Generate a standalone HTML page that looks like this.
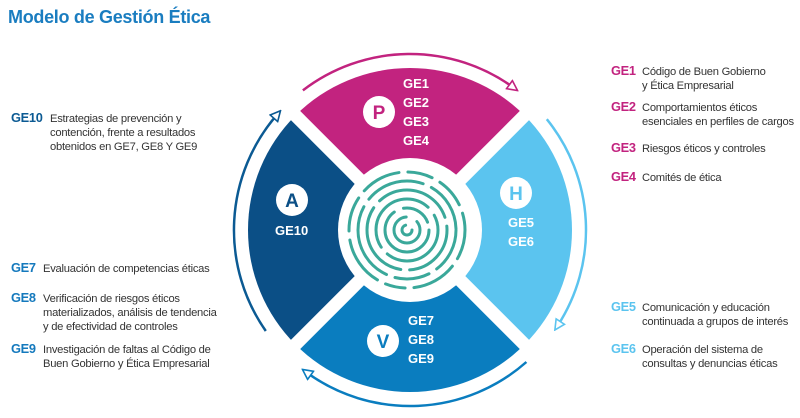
<!DOCTYPE html>
<html><head><meta charset="utf-8">
<style>
html,body{margin:0;padding:0;background:#fff;}
svg{display:block;font-family:"Liberation Sans",sans-serif;}
.t{font-size:11.2px;fill:#333;letter-spacing:-0.25px;}
.k{font-size:12.8px;font-weight:bold;letter-spacing:-0.3px;}
.w{fill:#fff;font-size:13px;font-weight:bold;}
</style></head><body>
<svg width="800" height="418" viewBox="0 0 800 418" xmlns="http://www.w3.org/2000/svg">
<defs>
<marker id="m1" viewBox="0 0 12 12" refX="6" refY="6" markerWidth="12" markerHeight="12" markerUnits="userSpaceOnUse" orient="auto"><path d="M1,1 L11,6 L1,11 Z" fill="#fff" stroke="#c2237f" stroke-width="1.6"/></marker>
<marker id="m2" viewBox="0 0 12 12" refX="6" refY="6" markerWidth="12" markerHeight="12" markerUnits="userSpaceOnUse" orient="auto"><path d="M1,1 L11,6 L1,11 Z" fill="#fff" stroke="#5bc4ef" stroke-width="1.6"/></marker>
<marker id="m3" viewBox="0 0 12 12" refX="6" refY="6" markerWidth="12" markerHeight="12" markerUnits="userSpaceOnUse" orient="auto"><path d="M1,1 L11,6 L1,11 Z" fill="#fff" stroke="#0a7dbf" stroke-width="1.6"/></marker>
<marker id="m4" viewBox="0 0 12 12" refX="6" refY="6" markerWidth="12" markerHeight="12" markerUnits="userSpaceOnUse" orient="auto"><path d="M1,1 L11,6 L1,11 Z" fill="#fff" stroke="#0b5a93" stroke-width="1.6"/></marker>
</defs>

<text x="8" y="23" font-size="18" font-weight="bold" fill="#1a7dc0" letter-spacing="-0.3">Modelo de Gestión Ética</text>

<path d="M410,230 L295.45,115.45 A162,162 0 0 1 524.55,115.45 Z" fill="#c2237f"/>
<path d="M410,230 L524.55,115.45 A162,162 0 0 1 524.55,344.55 Z" fill="#5bc4ef"/>
<path d="M410,230 L524.55,344.55 A162,162 0 0 1 295.45,344.55 Z" fill="#0a7dbf"/>
<path d="M410,230 L295.45,344.55 A162,162 0 0 1 295.45,115.45 Z" fill="#0b4f86"/>
<line x1="285" y1="105" x2="535" y2="355" stroke="#fff" stroke-width="13"/>
<line x1="535" y1="105" x2="285" y2="355" stroke="#fff" stroke-width="13"/>
<circle cx="410" cy="230" r="72" fill="#fff"/>

<g fill="none" stroke="#3aa89a" stroke-width="3" stroke-linecap="round">
<circle cx="407" cy="230" r="5" stroke-dasharray="22 10"/>
<circle cx="407" cy="230" r="13" stroke-dasharray="60 12"/>
<circle cx="407" cy="230" r="22" stroke-dasharray="90 10 30 8"/>
<circle cx="407" cy="230" r="31" stroke-dasharray="70 9 90 10"/>
<circle cx="407" cy="230" r="40" stroke-dasharray="60 9 80 9 80 9"/>
<circle cx="407" cy="230" r="49" stroke-dasharray="45 9 35 9 80 9 60 9 50 9"/>
<circle cx="407" cy="230" r="58" stroke-dasharray="30 9 45 9 20 9 50 9 35 9 40 9 25 9"/>
</g>

<g fill="none" stroke-width="2.5">
<path d="M302.9,90.4 A176,176 0 0 1 513.5,87.6" stroke="#c2237f" marker-end="url(#m1)"/>
<path d="M546.8,119.2 A176,176 0 0 1 557.6,325.8" stroke="#5bc4ef" marker-end="url(#m2)"/>
<path d="M526.4,362.0 A176,176 0 0 1 306.5,372.4" stroke="#0a7dbf" marker-end="url(#m3)"/>
<path d="M265.8,331.0 A176,176 0 0 1 277.2,114.5" stroke="#0b5a93" marker-end="url(#m4)"/>
</g>

<circle cx="379" cy="112" r="16" fill="#fff"/><text x="379" y="119" text-anchor="middle" font-size="19" font-weight="bold" fill="#c2237f">P</text>
<circle cx="516" cy="193" r="16" fill="#fff"/><text x="516" y="200" text-anchor="middle" font-size="19" font-weight="bold" fill="#5bc4ef">H</text>
<circle cx="292" cy="200" r="16" fill="#fff"/><text x="292" y="207" text-anchor="middle" font-size="19" font-weight="bold" fill="#0b4f86">A</text>
<circle cx="383" cy="341" r="16" fill="#fff"/><text x="383" y="348" text-anchor="middle" font-size="19" font-weight="bold" fill="#0a7dbf">V</text>

<g class="w">
<text x="403" y="88">GE1</text><text x="403" y="107">GE2</text><text x="403" y="126">GE3</text><text x="403" y="145">GE4</text>
<text x="508" y="227">GE5</text><text x="508" y="246">GE6</text>
<text x="275" y="235">GE10</text>
<text x="408" y="325">GE7</text><text x="408" y="344">GE8</text><text x="408" y="363">GE9</text>
</g>

<text class="k" x="611" y="75" fill="#c2237f">GE1</text>
<text class="t" x="642" y="75">Código de Buen Gobierno</text>
<text class="t" x="642" y="89">y Ética Empresarial</text>
<text class="k" x="611" y="111" fill="#c2237f">GE2</text>
<text class="t" x="642" y="111">Comportamientos éticos</text>
<text class="t" x="642" y="125">esenciales en perfiles de cargos</text>
<text class="k" x="611" y="152" fill="#c2237f">GE3</text>
<text class="t" x="642" y="152">Riesgos éticos y controles</text>
<text class="k" x="611" y="181" fill="#c2237f">GE4</text>
<text class="t" x="642" y="181">Comités de ética</text>

<text class="k" x="611" y="311" fill="#5bc4ef">GE5</text>
<text class="t" x="642" y="311">Comunicación y educación</text>
<text class="t" x="642" y="325">continuada a grupos de interés</text>
<text class="k" x="611" y="353" fill="#5bc4ef">GE6</text>
<text class="t" x="642" y="353">Operación del sistema de</text>
<text class="t" x="642" y="367">consultas y denuncias éticas</text>

<text class="k" x="11" y="122" fill="#0b5a93">GE10</text>
<text class="t" x="50" y="122">Estrategias de prevención y</text>
<text class="t" x="50" y="136">contención, frente a resultados</text>
<text class="t" x="50" y="150">obtenidos en GE7, GE8 Y GE9</text>

<text class="k" x="11" y="272" fill="#1479bd">GE7</text>
<text class="t" x="43" y="272">Evaluación de competencias éticas</text>
<text class="k" x="11" y="302" fill="#1479bd">GE8</text>
<text class="t" x="43" y="302">Verificación de riesgos éticos</text>
<text class="t" x="43" y="316">materializados, análisis de tendencia</text>
<text class="t" x="43" y="330">y de efectividad de controles</text>
<text class="k" x="11" y="353" fill="#1479bd">GE9</text>
<text class="t" x="43" y="353">Investigación de faltas al Código de</text>
<text class="t" x="43" y="367">Buen Gobierno y Ética Empresarial</text>
</svg>
</body></html>
